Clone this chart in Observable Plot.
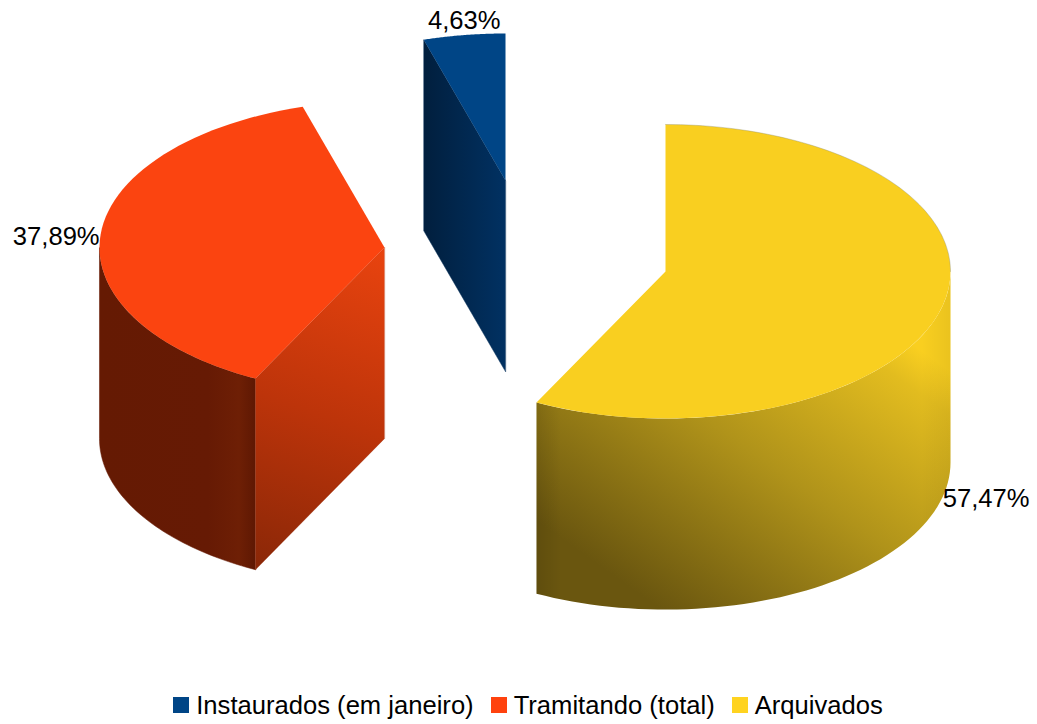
<!DOCTYPE html>
<html><head><meta charset="utf-8">
<style>
html,body{margin:0;padding:0;background:#fff;overflow:hidden}
.pie-swatches-wrap{justify-content:center;margin:0!important;min-height:34px!important;padding-left:36px}
.pie-swatch{margin-right:17px!important;color:#000}
.pie-swatch svg{margin-right:7px!important}
</style>
<script src="https://cdn.jsdelivr.net/npm/d3@7"></script>
<script src="https://cdn.jsdelivr.net/npm/@observablehq/plot@0.6"></script>
</head><body>
<div id="chart"></div>
<script>
const categories = ["Instaurados (em janeiro)", "Tramitando (total)", "Arquivados"];
const percents = [4.63, 37.89, 57.47];
const percentLabels = ["4,63%", "37,89%", "57,47%"];
const colors = ["#004586", "#ff420e", "#ffd320"];
const topColors = ["#004586", "#fb4410", "#f9cf20"];

// Layout of the 3D projection, in units of the pie radius
const W = 1037, H = 688, RX = 285, RY = 147, X0 = 665, Y0 = 271;
const depth = 1.3;
const explode = [[-0.5614, 0.619], [-0.986, 0.163], [0, 0]];
const font = "'Liberation Sans', Arial, sans-serif";

const total = d3.sum(percents);
// Slices run clockwise from 12 o'clock: Arquivados, Tramitando, Instaurados
const order = [2, 1, 0];
const angles = {};
let acc = 0;
for (const i of order) { angles[i] = [acc, acc + percents[i] / total * 2 * Math.PI]; acc = angles[i][1]; }

const rim = (i, a, z = 0) => ({x: explode[i][0] + Math.sin(a), y: explode[i][1] + Math.cos(a) - z});
const apex = (i, z = 0) => ({x: explode[i][0], y: explode[i][1] - z});
const arc = (i, a0, a1, z = 0) => d3.range(0, 61).map(k => rim(i, a0 + (a1 - a0) * k / 60, z));

const topFace = i => [apex(i), ...arc(i, ...angles[i])];
const wall = (i, a0, a1) => [...arc(i, a0, a1), ...arc(i, a0, a1, depth).reverse()];
const radial = (i, a) => [apex(i), rim(i, a), rim(i, a, depth), apex(i, depth)];

function gradient(id, x1, y1, x2, y2, stops) {
  const g = d3.create("svg:linearGradient").attr("id", id).attr("gradientUnits", "userSpaceOnUse")
    .attr("x1", x1).attr("y1", y1).attr("x2", x2).attr("y2", y2);
  for (const [o, c, a = 1] of stops) g.append("stop").attr("offset", o).attr("stop-color", c).attr("stop-opacity", a);
  return g.node();
}
const defs = () => {
  const d = d3.create("svg:defs").node();
  d.append(
    gradient("blueWall", 424, 0, 505, 0, [[0, "#011f3e"], [1, "#013162"]]),
    gradient("redFace", 392, 245, 270, 590, [[0, "#ea440f"], [0.5, "#bd340a"], [1, "#852607"]]),
    gradient("redWall", 99, 0, 254, 0, [[0, "#651a03"], [0.7, "#661a04"], [0.9, "#6e1f05"], [1, "#5f1803"]]),
    gradient("yellowWall", 900, 335, 690, 630, [[0, "#f9cf20"], [0.1, "#e2bc1f"], [0.5, "#b0931a"], [1, "#6a560f"]]),
    gradient("yellowEdge", 536, 0, 950, 0, [[0, "#000", 0.1], [0.06, "#000", 0], [0.93, "#000", 0], [1, "#000", 0.06]])
  );
  return d;
};

const face = (pts, fill, stroke = "none", strokeOpacity = 0.5) =>
  Plot.line(pts, {x: "x", y: "y", curve: "linear-closed", fill, stroke, strokeWidth: 0.6, strokeOpacity});

const labels = [
  {...rim(0, d3.mean(angles[0])), label: percentLabels[0], anchor: "middle", dx: 0, dy: -14},
  {...rim(1, d3.mean(angles[1])), label: percentLabels[1], anchor: "end", dx: -1, dy: 2},
  {...rim(2, d3.mean(angles[2]), depth), label: percentLabels[2], anchor: "start", dx: 0, dy: 2}
];

const chart = Plot.plot({
  width: W, height: H, margin: 0,
  x: {domain: [-X0 / RX, (W - X0) / RX], range: [0, W], axis: null},
  y: {domain: [Y0 / RY, (Y0 - H) / RY], range: [0, H], axis: null},
  marks: [
    defs,
    // Instaurados
    face(radial(0, angles[0][0]), "url(#blueWall)", "#012a55", 0.8),
    face(topFace(0), topColors[0]),
    // Tramitando
    face(wall(1, angles[1][0], 1.5 * Math.PI), "url(#redWall)", "#661a04", 0.9),
    face(radial(1, angles[1][0]), "url(#redFace)", "#9a2c08", 0.4),
    face(topFace(1), topColors[1]),
    // Arquivados
    face(wall(2, Math.PI / 2, angles[2][1]), "url(#yellowWall)"),
    face(wall(2, Math.PI / 2, angles[2][1]), "url(#yellowEdge)"),
    face(topFace(2), topColors[2]),
    Plot.line(arc(2, 0, Math.PI / 2), {x: "x", y: "y", stroke: "#8a8a6a", strokeWidth: 0.6, strokeOpacity: 0.6}),
    ...labels.map(l => Plot.text([l], {
      x: "x", y: "y", text: "label", textAnchor: l.anchor, dx: l.dx, dy: l.dy,
      fontSize: 25.6, fontFamily: font, fill: "#000", lineAnchor: "middle"
    }))
  ]
});
document.getElementById("chart").append(chart);

const legend = Plot.legend({
  color: {type: "ordinal", domain: categories, range: colors},
  swatchSize: 16, className: "pie",
  style: {fontSize: "25.6px", fontFamily: font, color: "#000"}
});
document.getElementById("chart").append(legend);
</script>
</body></html>
